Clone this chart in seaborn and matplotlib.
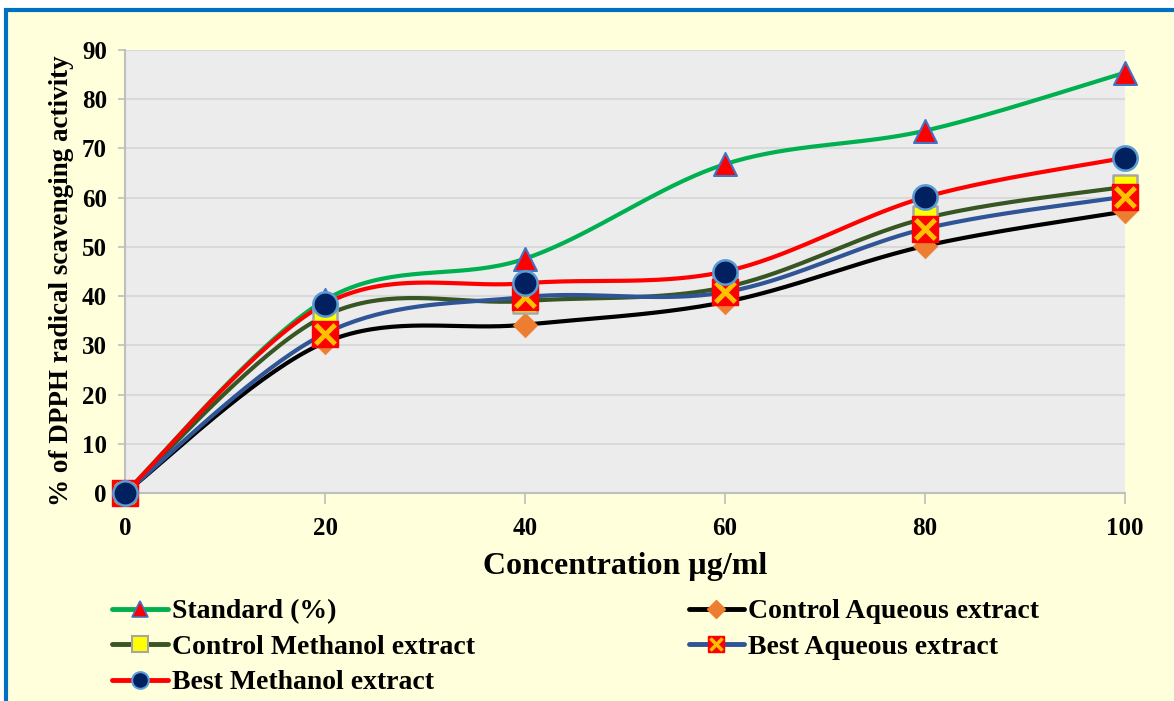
import numpy as np
import matplotlib
matplotlib.use("Agg")
import matplotlib.pyplot as plt
import seaborn as sns
from matplotlib.lines import Line2D
from matplotlib.patches import Rectangle
from matplotlib.legend_handler import HandlerTuple

# === Données ===
conc = [0, 20, 40, 60, 80, 100]
standard = [0, 39.2, 47.6, 66.8, 73.6, 85.4]
control_aq = [0, 30.6, 34.2, 38.8, 50.2, 57.2]
control_meth = [0, 36.0, 39.0, 41.8, 55.8, 62.2]
best_aq = [0, 32.4, 39.8, 40.8, 53.7, 60.2]
best_meth = [0, 38.4, 42.6, 45.0, 60.1, 68.1]
y_ticks = [0, 10, 20, 30, 40, 50, 60, 70, 80, 90]

labels = ["Standard (%)", "Control Aqueous extract", "Control Methanol extract",
          "Best Aqueous extract", "Best Methanol extract"]

sns.set_theme(style="whitegrid")
plt.rcParams['font.family'] = ['Liberation Serif', 'DejaVu Serif']
plt.rcParams['font.weight'] = 'bold'
plt.rcParams['text.color'] = 'black'
plt.rcParams['axes.labelcolor'] = 'black'


# courbe lissée type Excel (Bezier / Catmull-Rom) passant par les points
def smooth_curve(x, y, n=40):
    x = np.asarray(x, float)
    y = np.asarray(y, float)
    px = np.concatenate([[x[0]], x, [x[-1]]])
    py = np.concatenate([[y[0]], y, [y[-1]]])
    t = np.linspace(0, 1, n)[:, None]
    out = []
    for i in range(len(x) - 1):
        p0 = np.array([x[i], y[i]])
        p3 = np.array([x[i + 1], y[i + 1]])
        p1 = p0 + (np.array([px[i + 2], py[i + 2]]) - np.array([px[i], py[i]])) / 6
        p2 = p3 - (np.array([px[i + 3], py[i + 3]]) - np.array([px[i + 1], py[i + 1]])) / 6
        seg = ((1 - t) ** 3) * p0 + 3 * ((1 - t) ** 2) * t * p1 + 3 * (1 - t) * t ** 2 * p2 + t ** 3 * p3
        out.append(seg if i == 0 else seg[1:])
    out = np.vstack(out)
    return out[:, 0], out[:, 1]


fig = plt.figure(figsize=(11.74, 7.01), dpi=100, facecolor='white')
fig.add_artist(Rectangle((6 / 1174, -0.5), 2, 1.5 - 10 / 701, transform=fig.transFigure,
                         facecolor='#FFFFDB', edgecolor='#0070C0', lw=3, zorder=-1))
ax = fig.add_axes([125 / 1174, 1 - 493 / 701, 1000 / 1174, 443 / 701])
ax.set_facecolor('#ECECEC')

series = [
    (standard, '#00B050'),
    (control_aq, '#000000'),
    (control_meth, '#375623'),
    (best_aq, '#2F5597'),
    (best_meth, '#FF0000'),
]
for vals, col in series:
    sx, sy = smooth_curve(conc, vals)
    sns.lineplot(x=sx, y=sy, sort=False, estimator=None, color=col, lw=3,
                 ax=ax, zorder=2, clip_on=False)

# marqueurs
sns.scatterplot(x=conc, y=standard, marker='^', s=16.5 ** 2, color='#FF0000',
                edgecolor='#4472C4', linewidth=1.5, ax=ax, zorder=3, clip_on=False)
sns.scatterplot(x=conc, y=control_aq, marker='D', s=12.5 ** 2, color='#ED7D31',
                edgecolor='#ED7D31', linewidth=0.5, ax=ax, zorder=4, clip_on=False)
sns.scatterplot(x=conc, y=control_meth, marker='s', s=17 ** 2, color='#FFFF00',
                edgecolor='#A6A6A6', linewidth=1.8, ax=ax, zorder=5, clip_on=False)
sns.scatterplot(x=conc, y=best_aq, marker='s', s=19 ** 2, color='#FF0000',
                edgecolor='#FF0000', linewidth=1, ax=ax, zorder=6, clip_on=False)
sns.scatterplot(x=conc, y=best_aq, marker='x', s=14 ** 2, color='#FFC000',
                linewidth=3.5, ax=ax, zorder=6.5, clip_on=False)
sns.scatterplot(x=conc, y=best_meth, marker='o', s=17.5 ** 2, color='#002060',
                edgecolor='#5B9BD5', linewidth=1.8, ax=ax, zorder=7, clip_on=False)

ax.set_xlim(0, 100)
ax.set_ylim(0, 90)
ax.set_xticks(conc)
ax.set_yticks(y_ticks)
ax.xaxis.grid(False)
ax.yaxis.grid(True, color='#D9D9D9', lw=1.5)
ax.set_axisbelow(True)
for side in ['top', 'right']:
    ax.spines[side].set_visible(False)
for side in ['left', 'bottom']:
    ax.spines[side].set_color('#BFBFBF')
    ax.spines[side].set_linewidth(1.5)
ax.tick_params(axis='both', labelsize=18, labelcolor='black', color='#BFBFBF',
               direction='out', width=1.2, bottom=True, left=True)
ax.tick_params(axis='y', length=5, pad=8)
ax.tick_params(axis='x', length=8, pad=9)
for lab in ax.get_xticklabels() + ax.get_yticklabels():
    lab.set_fontweight('bold')

ax.set_xlabel('Concentration µg/ml', fontsize=23, fontweight='bold')
ax.xaxis.set_label_coords(0.5, -0.167)
ax.xaxis.label.set_verticalalignment('center')
ax.set_ylabel('% of DPPH radical scavenging activity', fontsize=19.5, fontweight='bold')
ax.yaxis.set_label_coords(-0.063, 0.48)
ax.yaxis.label.set_verticalalignment('center')

# === Légende ===
h_std = Line2D([], [], color='#00B050', lw=3.5, marker='^', ms=12, mfc='#FF0000', mec='#4472C4', mew=1.2)
h_caq = Line2D([], [], color='#000000', lw=3.5, marker='D', ms=9, mfc='#ED7D31', mec='#ED7D31')
h_cme = Line2D([], [], color='#375623', lw=3.5, marker='s', ms=12, mfc='#FFFF00', mec='#A6A6A6', mew=1.5)
h_baq = (Line2D([], [], color='#2F5597', lw=3.5, marker='s', ms=12, mfc='#FF0000', mec='#FF0000'),
         Line2D([], [], ls='none', marker='x', ms=9, mec='#FFC000', mew=2.5))
h_bme = Line2D([], [], color='#FF0000', lw=3.5, marker='o', ms=12, mfc='#002060', mec='#5B9BD5', mew=1.5)

handles = [h_std, h_cme, h_bme, h_caq, h_baq]
leg_labels = [labels[0], labels[2], labels[4], labels[1], labels[3]]
fig.legend(handles, leg_labels, loc='upper left', bbox_to_anchor=(112 / 1174, 1 - 599 / 701),
           ncol=2, frameon=False, prop={'family': 'Liberation Serif', 'weight': 'bold', 'size': 20},
           handlelength=2.0, handletextpad=0.15, columnspacing=7.7, labelspacing=0.36,
           borderpad=0, borderaxespad=0, handler_map={tuple: HandlerTuple(ndivide=1)})

fig.savefig('out.png', dpi=100, facecolor=fig.get_facecolor())
